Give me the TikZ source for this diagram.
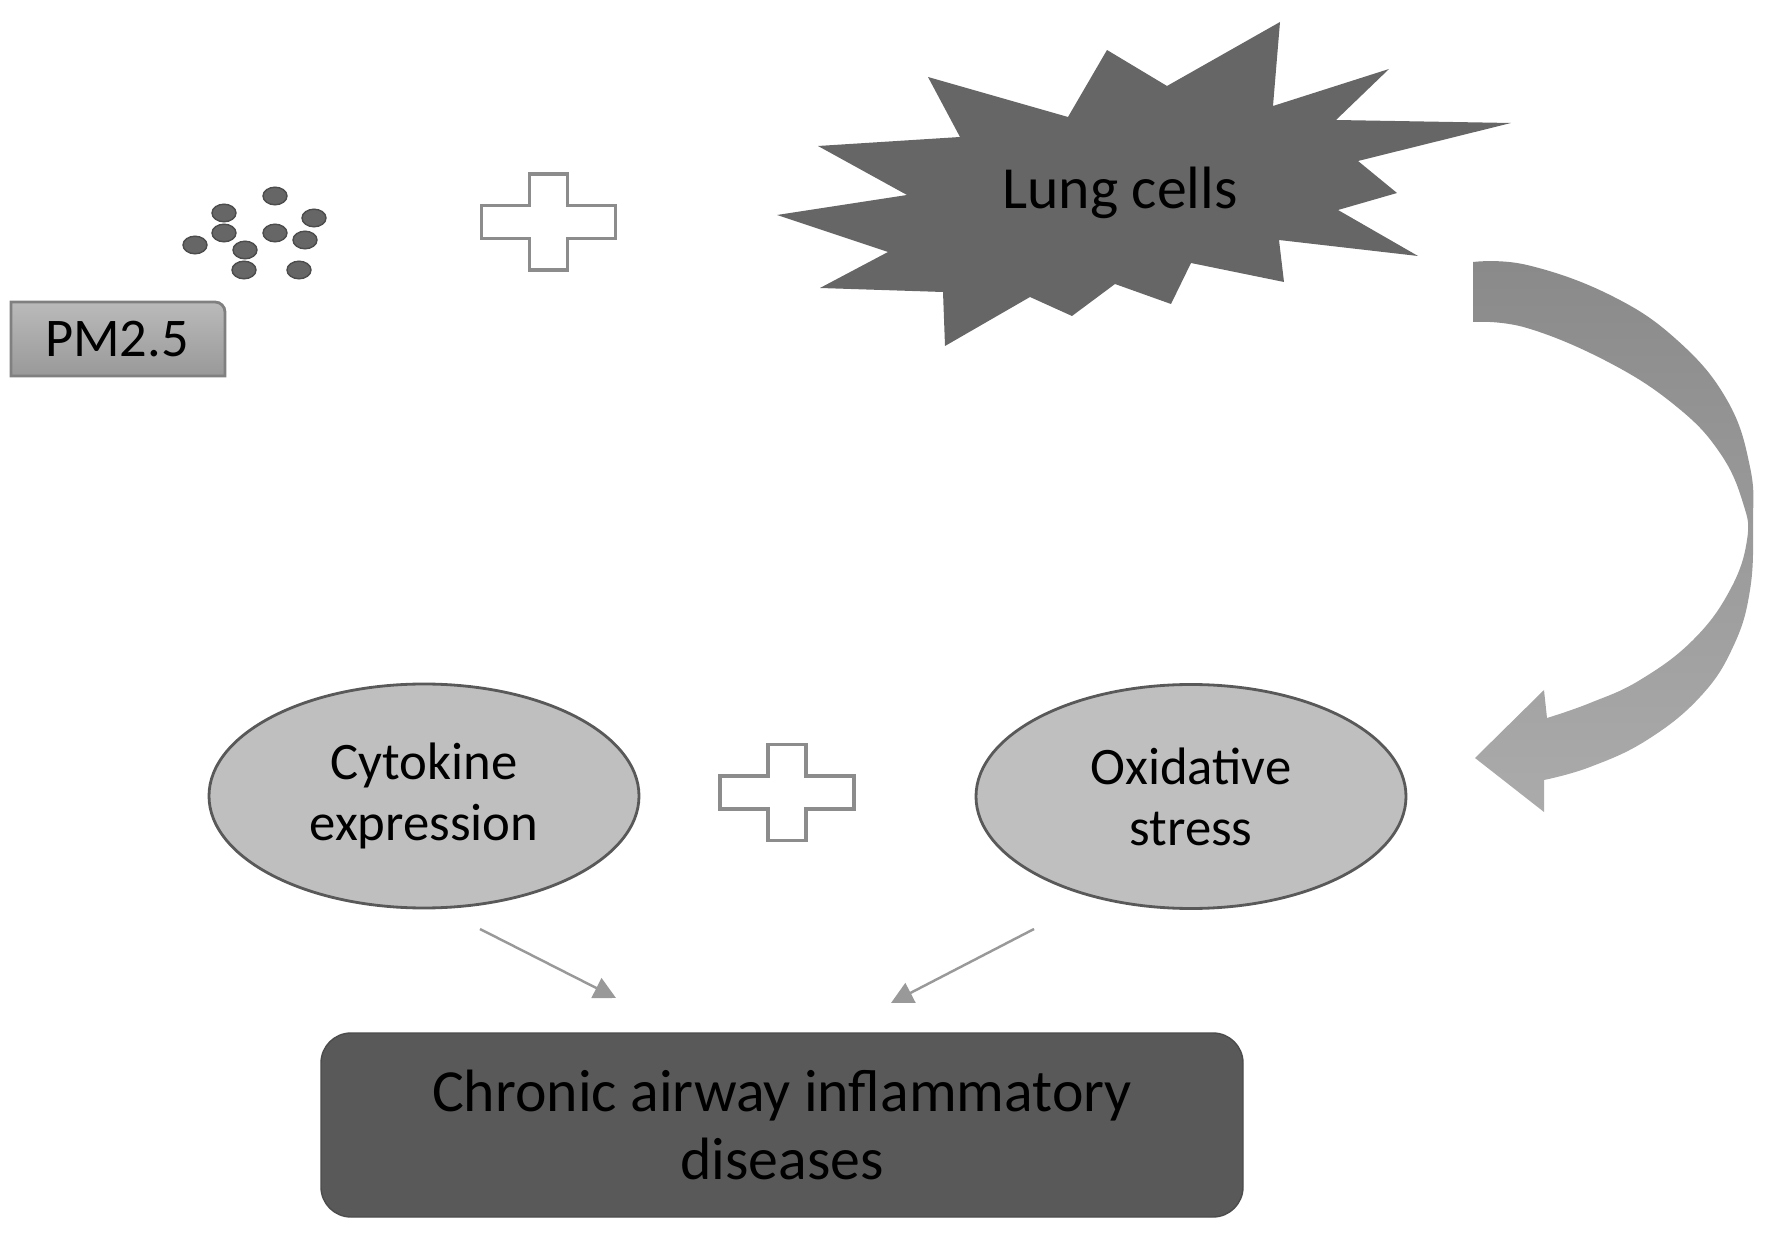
\documentclass[tikz,border=0pt]{standalone}
\usepackage{fontspec}
\setmainfont{Carlito}
\usepackage{tikz}
\usetikzlibrary{shapes,arrows.meta}

\tikzset{
  bubble/.style={ellipse, draw=black!65, fill=black!25, line width=0.8pt, minimum width=4.3cm, minimum height=2.24cm, align=center, font=\fontsize{15}{17.4}\selectfont},
  particle/.style={fill=black!60, draw=black!70, thin},
  crossmark/.style={fill=white, draw=black!45, line width=0.9pt},
  pointer/.style={draw=black!40, line width=0.7pt, -{Triangle[length=2.2mm,width=2.2mm]}},
}

\begin{document}
\begin{tikzpicture}
         \useasboundingbox (0,0) rectangle (17.72,12.32);
         % PM2.5 label
         \draw[top color=black!27, bottom color=black!40, draw=black!50, line width=0.8pt] (0.11,8.56) -- (0.11,9.30) -- (2.15,9.30) arc[start angle=90, end angle=0, radius=0.1] -- (2.25,8.56) -- cycle;
         \node[font=\fontsize{15.5}{18}\selectfont] (pm) at (1.17,8.93) {PM2.5};
         % particles
         \foreach \px/\py in {2.75/10.36, 2.24/10.19, 3.14/10.14, 2.24/9.99, 2.75/9.99, 3.05/9.92, 1.95/9.87, 2.45/9.82, 2.44/9.62, 2.99/9.62} {\draw[particle] (\px,\py) ellipse [x radius=0.12, y radius=0.088]; }
         % plus signs
         \foreach \cx/\cy in {5.485/10.10, 7.87/4.395} {\draw[crossmark, shift={(\cx,\cy)}] (-0.19,0.48) -- (0.19,0.48) -- (0.19,0.165) -- (0.67,0.165) -- (0.67,-0.165) -- (0.19,-0.165) -- (0.19,-0.48) -- (-0.19,-0.48) -- (-0.19,-0.165) -- (-0.67,-0.165) -- (-0.67,0.165) -- (-0.19,0.165) -- cycle; }
         % lung cells
         \fill[black!60] (7.77,10.17) -- (9.07,10.37) -- (8.18,10.86) -- (9.60,10.95) -- (9.28,11.55) -- (10.68,11.15) -- (11.07,11.82) -- (11.67,11.46) -- (12.80,12.10) -- (12.73,11.26) -- (13.89,11.63) -- (13.36,11.12) -- (15.11,11.09) -- (13.58,10.71) -- (13.97,10.39) -- (13.38,10.22) -- (14.18,9.76) -- (12.79,9.92) -- (12.84,9.50) -- (11.91,9.69) -- (11.71,9.28) -- (11.15,9.48) -- (10.72,9.16) -- (10.30,9.35) -- (9.45,8.86) -- (9.43,9.40) -- (8.20,9.44) -- (8.88,9.80) -- cycle;
         \node[font=\fontsize{17}{20}\selectfont] (lung) at (11.2,10.39) {Lung cells};
         % curved arrow
         \shade[top color=black!46, bottom color=black!33] plot[smooth, tension=0.7] coordinates {(14.73,9.70) (15.27,9.67) (16.10,9.37) (16.77,8.92) (17.27,8.32) (17.50,7.65) (17.53,7.09) (17.50,6.42) (17.33,5.85) (17.00,5.35) (16.47,4.92) (15.90,4.65) (15.44,4.52)} -- (15.44,4.20) -- (14.75,4.74) -- (15.44,5.42) -- plot[smooth, tension=0.7] coordinates {(15.47,5.14) (15.90,5.29) (16.40,5.52) (16.93,5.92) (17.30,6.42) (17.47,6.92) (17.43,7.29) (17.20,7.79) (16.77,8.25) (16.10,8.69) (15.27,9.04) (14.73,9.10)} -- cycle;
         % effects
         \node[bubble] (cyto) at (4.24,4.36) {Cytokine\\expression};
         \node[bubble] (oxi) at (11.91,4.355) {Oxidative\\stress};
         \node[draw=black!70, fill=black!65, rounded corners=0.3cm, minimum width=9.22cm, minimum height=1.84cm, align=center, font=\fontsize{17}{19.6}\selectfont] (disease) at (7.82,1.07) {Chronic airway inflammatory\\diseases};
         \coordinate (cyto out) at (4.80,3.03);
         \coordinate (cyto in) at (6.16,2.34);
         \coordinate (oxi out) at (10.34,3.03);
         \coordinate (oxi in) at (8.91,2.29);
         \draw[pointer] (cyto out) -- (cyto in);
         \draw[pointer] (oxi out) -- (oxi in);
      \end{tikzpicture}
\end{document}
